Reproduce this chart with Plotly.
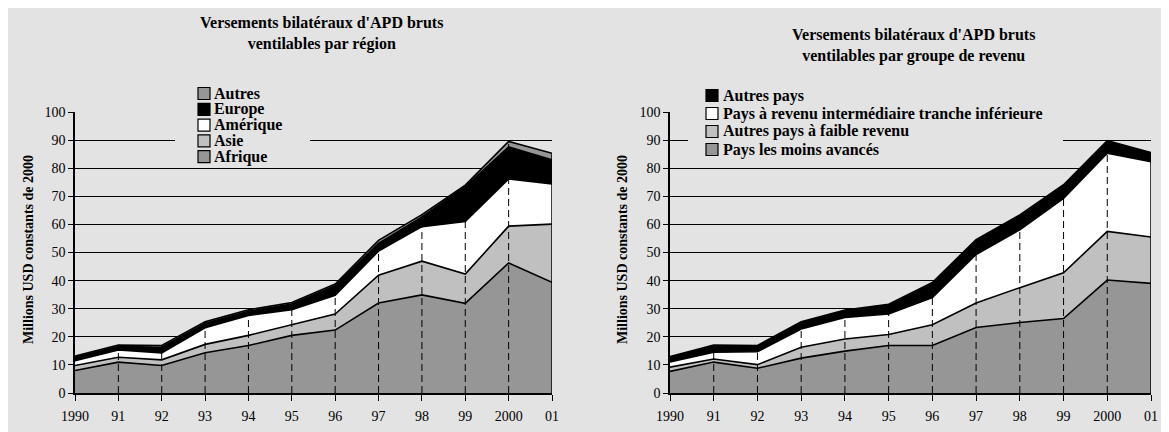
import plotly.graph_objects as go

# ---------------- data ----------------
years = ["1990", "91", "92", "93", "94", "95", "96", "97", "98", "99", "2000", "01"]

# Left chart: by region (USD million, constant 2000)
afrique = [8.0, 11.0, 9.8, 14.3, 16.9, 20.5, 22.4, 32.0, 34.9, 31.9, 46.3, 39.4]
asie = [1.8, 1.7, 2.0, 3.0, 3.6, 3.9, 5.7, 9.9, 12.0, 10.4, 13.1, 20.7]
amerique = [1.7, 2.6, 2.5, 5.9, 7.1, 5.2, 6.7, 8.6, 12.3, 18.7, 16.8, 14.3]
europe = [1.2, 1.3, 2.0, 1.6, 1.5, 2.1, 3.4, 2.7, 3.5, 12.5, 11.4, 8.6]
autres = [0.4, 0.5, 0.6, 0.6, 0.5, 0.5, 0.6, 1.1, 0.8, 0.5, 1.9, 2.3]

# Right chart: by income group
pma = [7.7, 11.0, 8.8, 12.4, 14.9, 16.9, 16.9, 23.3, 25.1, 26.5, 40.2, 39.0]
autres_faible = [1.5, 1.1, 1.3, 3.9, 4.3, 3.9, 7.4, 8.7, 12.4, 16.3, 17.3, 16.5]
priti = [1.8, 2.4, 4.6, 6.5, 7.7, 7.3, 9.7, 17.3, 20.6, 26.5, 27.8, 26.8]
autres_pays = [2.0, 2.6, 2.2, 2.6, 2.6, 3.5, 5.3, 5.3, 5.3, 4.8, 4.5, 3.3]

region_names = ["Afrique", "Asie", "Amérique", "Europe", "Autres"]
income_names = ["Pays les moins avancés", "Autres pays à faible revenu",
                "Pays à revenu intermédiaire tranche inférieure", "Autres pays"]

title_left = "Versements bilatéraux d'APD bruts<br>ventilables par région"
title_right = "Versements bilatéraux d'APD bruts<br>ventilables par groupe de revenu"
ytitle = "Millions USD constants de 2000"

# ---------------- style ----------------
W, H = 1169, 432          # window size
OFF = 8                   # default page body margin
FW, FH = W - OFF, H - OFF  # figure size
BG = "#e3e3e3"
FONT = "Liberation Serif"
DARK = "#969696"
LIGHT = "#c0c0c0"
region_colors = [DARK, LIGHT, "#ffffff", "#000000", DARK]
income_colors = [DARK, LIGHT, "#ffffff", "#000000"]


def fx(x):
    return (x - OFF) / FW


def fy(y):
    return 1 - (y - OFF) / FH


fig = go.Figure()


def add_stack(series, names, colors, xa, ya, group):
    for vals, name, col in zip(series, names, colors):
        fig.add_trace(go.Scatter(
            x=years, y=vals, name=name, mode="lines", stackgroup=group,
            fillcolor=col, line=dict(color="black", width=1.6),
            xaxis=xa, yaxis=ya, showlegend=False, hoverinfo="skip"))
    totals = [sum(v) for v in zip(*series)]
    dx, dy = [], []
    for i, (yr, t) in enumerate(zip(years, totals)):
        if 0 < i < len(years) - 1:
            dx += [yr, yr, None]
            dy += [0, t, None]
    fig.add_trace(go.Scatter(
        x=dx, y=dy, mode="lines", line=dict(color="black", width=1, dash="7px,4px"),
        xaxis=xa, yaxis=ya, showlegend=False, hoverinfo="skip"))
    fig.add_trace(go.Scatter(
        x=[years[-1], years[-1]], y=[0, totals[-1]], mode="lines",
        line=dict(color="black", width=1.5),
        xaxis=xa, yaxis=ya, showlegend=False, hoverinfo="skip"))


add_stack([afrique, asie, amerique, europe, autres], region_names, region_colors, "x", "y", "reg")
add_stack([pma, autres_faible, priti, autres_pays], income_names, income_colors, "x2", "y2", "inc")

tickfont = dict(family=FONT, size=14, color="black")
xcommon = dict(type="category", range=[0, len(years) - 1], showline=True, linecolor="black",
               linewidth=1.5, ticks="outside", ticklen=6, tickcolor="black", tickwidth=1,
               ticklabelstandoff=3,
               showgrid=False, zeroline=False, tickfont=tickfont, automargin=False,
               fixedrange=True)
ycommon = dict(range=[0, 100], dtick=10, showline=True, linecolor="black", linewidth=1.5,
               ticks="outside", ticklen=5, tickcolor="black", tickwidth=1,
               showgrid=True, gridcolor="black", gridwidth=1, zeroline=False,
               tickfont=tickfont, automargin=False, fixedrange=True)

fig.update_layout(
    width=FW, height=FH, autosize=False,
    margin=dict(l=0, r=0, t=0, b=0),
    paper_bgcolor=BG, plot_bgcolor="rgba(0,0,0,0)",
    showlegend=False,
    font=dict(family=FONT, color="black"),
    xaxis=dict(domain=[fx(75), fx(552)], anchor="y", **xcommon),
    yaxis=dict(domain=[fy(393), fy(112)], anchor="x", **ycommon),
    xaxis2=dict(domain=[fx(670), fx(1151)], anchor="y2", **xcommon),
    yaxis2=dict(domain=[fy(393), fy(112)], anchor="x2", **ycommon),
)

shapes = []
annotations = []

# titles
annotations.append(dict(text="<b>" + title_left + "</b>", xref="paper", yref="paper",
                        x=fx(322), y=fy(33), xanchor="center", yanchor="middle",
                        showarrow=False, font=dict(family=FONT, size=16, color="black")))
annotations.append(dict(text="<b>" + title_right + "</b>", xref="paper", yref="paper",
                        x=fx(913), y=fy(45), xanchor="center", yanchor="middle",
                        showarrow=False, font=dict(family=FONT, size=16, color="black")))
# y titles
for xpos in (28, 622):
    annotations.append(dict(text="<b>" + ytitle + "</b>", xref="paper", yref="paper",
                            x=fx(xpos), y=fy(250), xanchor="center", yanchor="middle",
                            textangle=-90, showarrow=False,
                            font=dict(family=FONT, size=14, color="black")))


def add_legend(names, colors, box, sw_x, text_x, y0, step):
    bx0, bx1, by0, by1 = box
    shapes.append(dict(type="rect", xref="paper", yref="paper", x0=fx(bx0), x1=fx(bx1),
                       y0=fy(by1), y1=fy(by0), fillcolor=BG, line=dict(width=0), layer="above"))
    for i, (name, col) in enumerate(zip(names, colors)):
        yc = y0 + i * step
        shapes.append(dict(type="rect", xref="paper", yref="paper",
                           x0=fx(sw_x), x1=fx(sw_x + 12), y0=fy(yc + 6), y1=fy(yc - 6),
                           fillcolor=col, line=dict(color="black", width=1.2), layer="above"))
        annotations.append(dict(text="<b>" + name + "</b>", xref="paper", yref="paper",
                                x=fx(text_x), y=fy(yc), xanchor="left", yanchor="middle",
                                showarrow=False, font=dict(family=FONT, size=16, color="black")))


add_legend(region_names[::-1], region_colors[::-1], (175, 310, 83, 166), 198, 212, 93.5, 15.8)
add_legend(income_names[::-1], income_colors[::-1], (688, 1063, 85, 160), 706, 721, 95.5, 18)

fig.update_layout(shapes=shapes, annotations=annotations)

fig.write_html("out.html")
